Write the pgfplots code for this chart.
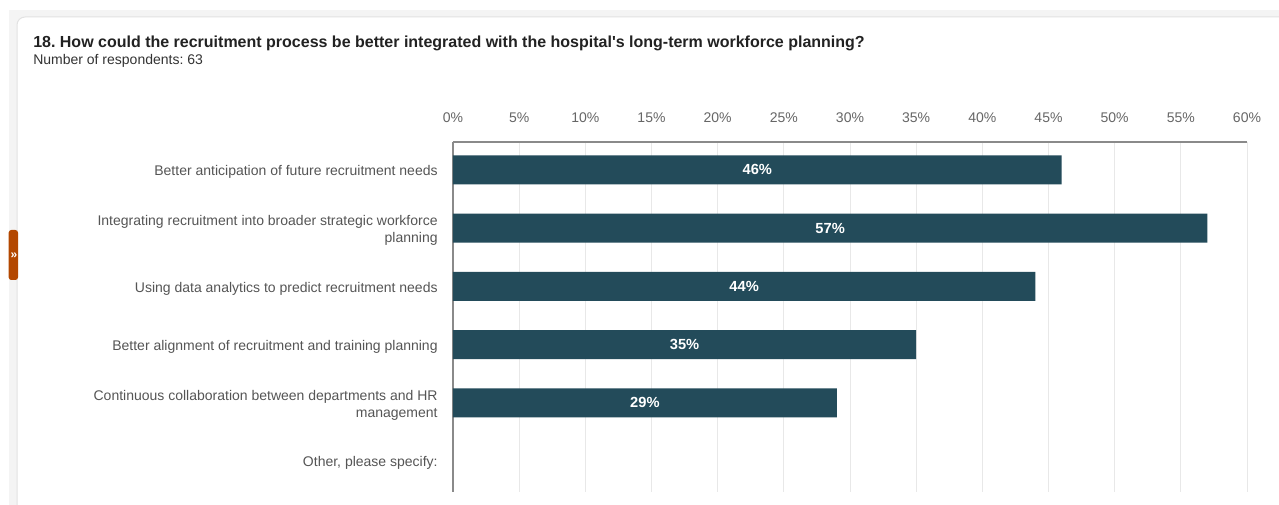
\documentclass[border=0pt]{standalone}
\usepackage{pgfplots}
\pgfplotsset{compat=1.18}
\usepackage{pgfplotstable}
\usepackage{fontspec}
\setmainfont{Liberation Sans}
\frenchspacing
\definecolor{barc}{HTML}{234B5A}
\definecolor{bgc}{HTML}{F4F4F4}
\definecolor{cardb}{HTML}{E2E2E2}
\definecolor{tabc}{HTML}{B34700}
\definecolor{titlec}{HTML}{222222}
\definecolor{subc}{HTML}{333333}
\definecolor{catc}{HTML}{555555}
\definecolor{tickc}{HTML}{666666}
\definecolor{axc}{HTML}{8A8A8A}
\definecolor{gridc}{HTML}{E8E8E8}
\pgfplotstableread{
y v
0 46
1 57
2 44
3 35
4 29
}\data
\begin{document}
\begin{tikzpicture}
\clip (0,0) rectangle (959.25pt,-378.75pt);
\fill[white] (0,0) rectangle (959.25pt,-378.75pt);
\fill[bgc] (6.75pt,-7.5pt) rectangle (970pt,-390pt);
\draw[cardb, fill=white, rounded corners=6pt, line width=0.75pt] (12.75pt,-12.75pt) rectangle (975pt,-395pt);
\fill[tabc, rounded corners=2pt] (6.5pt,-172.5pt) rectangle (13.5pt,-210pt);
\node[text=white, font=\fontsize{9pt}{10pt}\selectfont\bfseries, inner sep=0pt] at (10.5pt,-191.5pt) {»};
\node[anchor=base west, inner sep=0pt, text=titlec, font=\fontsize{12pt}{14pt}\selectfont\bfseries] at (24.75pt,-35.75pt)
 {18. How could the recruitment process be better integrated with the hospital\textquotesingle s long-term workforce planning?};
\node[anchor=base west, inner sep=0pt, text=subc, font=\fontsize{10.5pt}{12pt}\selectfont] at (24.75pt,-48.75pt)
 {Number of respondents: 63};
\begin{axis}[
  at={(339.75pt,-106.5pt)}, anchor=north west,
  scale only axis, width=595.5pt, height=262.5pt,
  xmin=0, xmax=60, ymin=-0.48, ymax=5.53, y dir=reverse,
  axis x line=top, axis y line=left,
  axis line style={-, axc, line width=1.1pt},
  /pgf/number format/assume math mode=true,
  xtick={0,5,...,60},
  xticklabel={\pgfmathprintnumber{\tick}\%},
  xmajorgrids, grid style={gridc, line width=0.75pt},
  major tick length=0pt,
  ytick={0,1,2,3,4,5},
  yticklabels={Better anticipation of future recruitment needs,
    {Integrating recruitment into broader strategic workforce\\planning},
    Using data analytics to predict recruitment needs,
    Better alignment of recruitment and training planning,
    {Continuous collaboration between departments and HR\\management},
    {Other, please specify:}},
  yticklabel style={align=right, text=catc, font=\fontsize{10.5pt}{12.75pt}\selectfont, xshift=-8pt, yshift=-1.5pt},
  xticklabel style={text=tickc, font=\fontsize{10.5pt}{12pt}\selectfont, yshift=11.25pt},
  clip=false,
]
\addplot[xbar, bar width=21.75pt, fill=barc, draw=none] table[x=v, y=y] {\data};
\addplot[draw=none, mark=none, point meta=explicit,
  nodes near coords={\pgfmathprintnumber{\pgfplotspointmeta}\%},
  nodes near coords style={anchor=center, text=white, font=\fontsize{11pt}{12pt}\selectfont\bfseries}]
  table[x expr=\thisrow{v}/2, y=y, meta=v] {\data};
\end{axis}
\end{tikzpicture}
\end{document}
